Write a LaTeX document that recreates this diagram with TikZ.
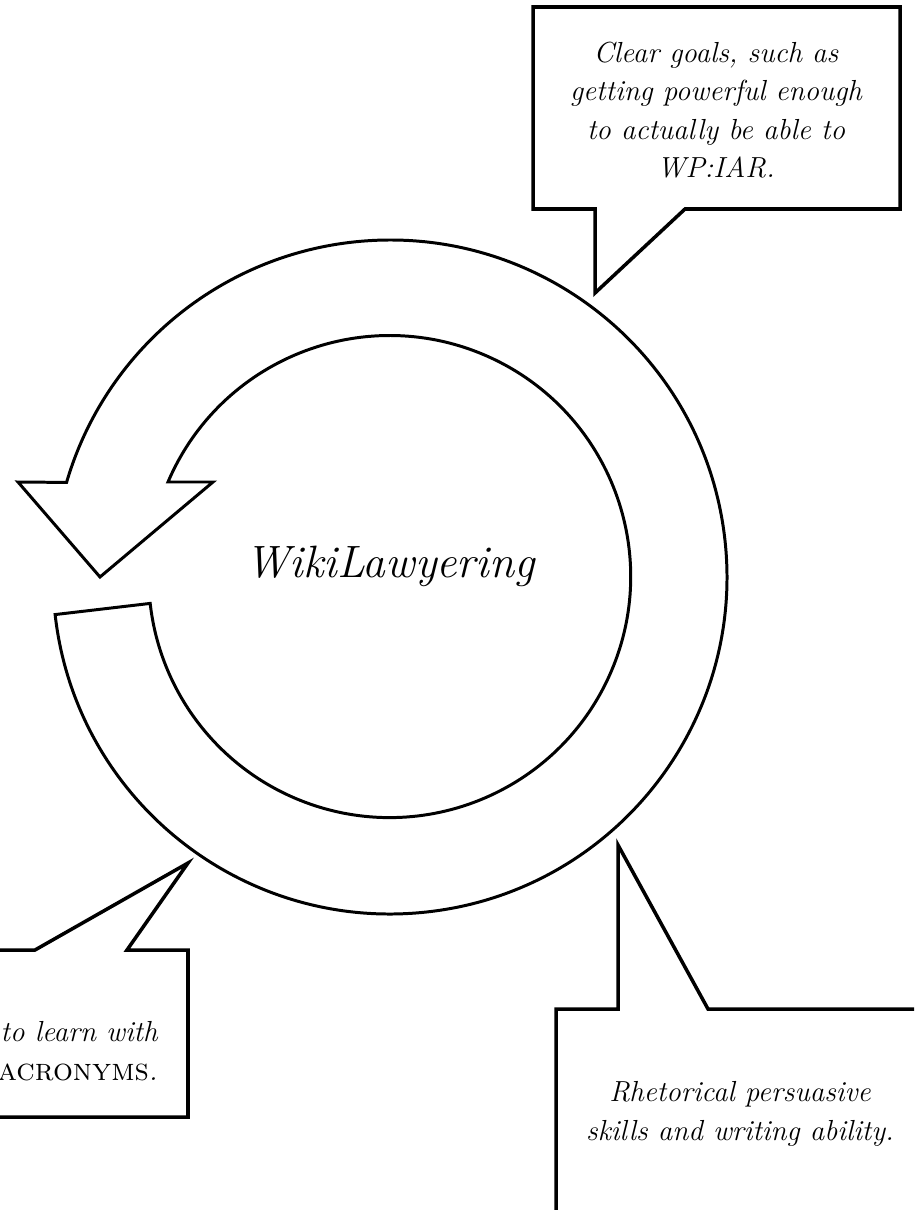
\documentclass[tikz,border=0pt]{standalone}
\begin{document}
\begin{tikzpicture}[x=0.02cm, y=-0.02cm,
    ring/.style={line width=1.7pt},
    bubble/.style={line width=2pt},
    quote/.style={font=\fontsize{16.5}{21.9}\selectfont\itshape, align=center, inner sep=0pt}]
  % frame
  \useasboundingbox (0,0) rectangle (914,1210);
  \clip (0,0) rectangle (914,1210);
  % circular arrow
  \coordinate (hub) at (390,577);
  \draw[ring] (hub) ++(173.6:337) arc[start angle=173.6, end angle=-163.7, radius=337]
    -- (18,482) -- (100,577) -- (213,482) -- (168,482)
    arc[start angle=-156.9, end angle=173.6, radius=241] -- cycle;
  \node[font=\fontsize{25.8}{30}\selectfont\itshape, anchor=base, inner sep=0pt] (title) at (hub) {WikiLawyering};
  % top callout
  \draw[bubble] (533,7) -- (900,7) -- (900,209) -- (685,209) -- (595,293)
    -- (595,209) -- (533,209) -- cycle;
  \node[quote] (goals) at (716,110) {Clear goals, such as\\ getting powerful enough\\ to actually be able to\\ WP:IAR.};
  % bottom left callout
  \draw[bubble] (-50,950) -- (35,950) -- (188,863) -- (127,950) -- (188,950)
    -- (188,1117) -- (-50,1117) -- cycle;
  \node[quote, align=right, anchor=east] (acronyms) at (158,1051) {to learn with\\ \textup{\fontsize{17.8}{21.9}\selectfont\textsc{acronyms}}.};
  % bottom right callout
  \draw[bubble] (556,1250) -- (556,1009) -- (618,1009) -- (618,845) -- (708,1009)
    -- (960,1009) -- (960,1250) -- cycle;
  \node[quote] (rhetoric) at (740,1114) {Rhetorical persuasive\\ skills and writing ability.};
\end{tikzpicture}
\end{document}
